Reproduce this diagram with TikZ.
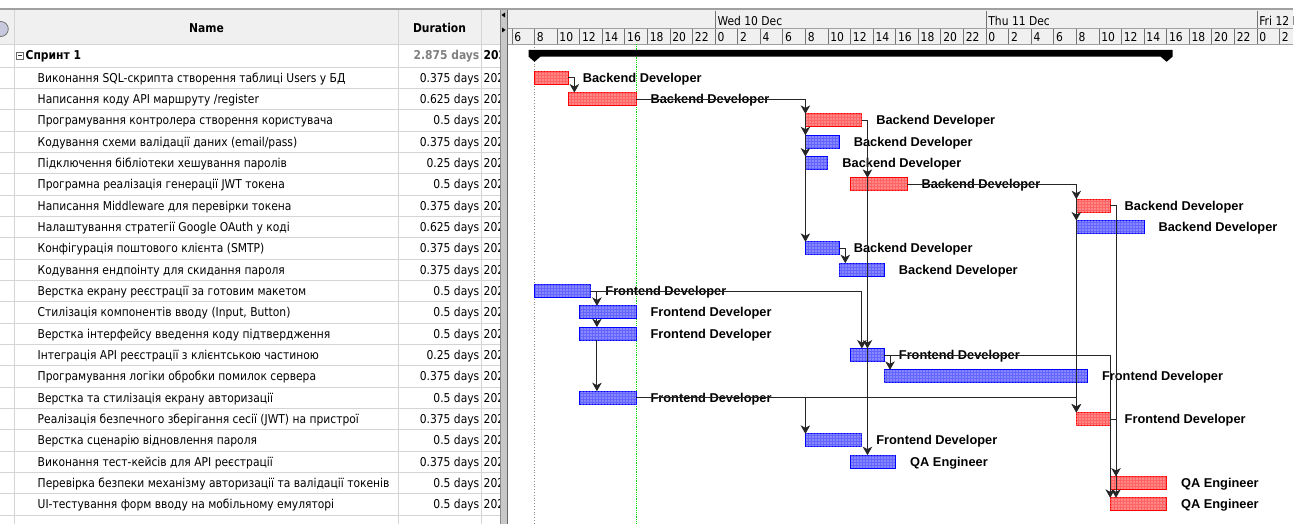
\documentclass[tikz,border=0pt]{standalone}
\usepackage{fontspec}
\setmainfont[FakeStretch=0.88]{DejaVu Sans}
\newfontfamily\resfont{Liberation Sans}
\usetikzlibrary{arrows.meta,patterns.meta}

\definecolor{hdrbg}{RGB}{240,240,240}
\definecolor{gridln}{RGB}{212,212,212}
\definecolor{hdrln}{RGB}{160,160,160}
\definecolor{redfill}{RGB}{255,100,100}
\definecolor{redline}{RGB}{255,0,0}
\definecolor{bluefill}{RGB}{100,100,255}
\definecolor{blueline}{RGB}{0,0,255}
\definecolor{durgray}{RGB}{128,128,128}
\definecolor{splitgray}{RGB}{200,200,200}
\definecolor{statusgreen}{RGB}{0,220,0}
\definecolor{iconfill}{RGB}{200,200,222}

\tikzset{
  tbl/.style={font=\fontsize{12.2}{14}\selectfont, inner sep=0pt},
  tblname/.style={tbl, anchor=base west},
  tbldur/.style={tbl, anchor=base east},
  hdrtxt/.style={font=\bfseries\fontsize{12.2}{14}\selectfont, inner sep=0pt},
  scaletxt/.style={tbl, anchor=base west},
  taskbar/.style={minimum height=13pt, inner sep=0pt, outer sep=0pt, anchor=west, line width=1pt},
  redbar/.style={taskbar, draw=redline, fill=redfill,
    postaction={pattern={Dots[distance=3pt,radius=0.6pt]}, pattern color=white}},
  bluebar/.style={taskbar, draw=blueline, fill=bluefill,
    postaction={pattern={Dots[distance=3pt,radius=0.6pt]}, pattern color=white}},
  restxt/.style={font=\resfont\bfseries\fontsize{12.8}{14}\selectfont, anchor=base west, inner sep=0pt},
  link/.style={line width=0.9pt, draw=black!85},
  tip/.style={-{Stealth[length=8.5pt,width=9.5pt,inset=2.5pt]}},
  gridline/.style={draw=gridln, line width=0.8pt},
  tick/.style={draw=black!55, line width=0.8pt},
}

\begin{document}
\begin{tikzpicture}[x=1pt,y=-1pt]
\useasboundingbox (0,0) rectangle (1309,524);
\fill[white] (0,0) rectangle (1309,524);

% ---------- table header ----------
\fill[hdrbg] (0,10) rectangle (500,44);
\begin{scope}
  \clip (0,10) rectangle (14.5,44);
  \draw[draw=black!55, fill=iconfill, line width=0.8pt] (0.8,29) circle (7.5);
\end{scope}
\node[hdrtxt] (hname) at (206.5,28) {Name};
\node[hdrtxt] (hdur) at (439.5,28) {Duration};

% ---------- table grid ----------
\draw[gridline] (0,44) -- (500,44);
\foreach \k in {0,...,21} {
  \draw[gridline] (0,{56.4+21.33*\k+10.67}) -- (500,{56.4+21.33*\k+10.67});
}
\draw[gridline] (14.5,10) -- (14.5,524);
\draw[gridline] (398,10) -- (398,524);
\draw[gridline] (481.5,10) -- (481.5,524);

% ---------- summary row ----------
\node[draw=black!60, line width=0.7pt, minimum size=6.5pt, inner sep=0pt, fill=white] (tog) at (19.8,55.8) {};
\draw[black!80, line width=0.8pt] ([xshift=1.5pt]tog.west) -- ([xshift=-1.5pt]tog.east);
\node[hdrtxt, anchor=base west] (sprint) at (25.5,60) {Спринт 1};
\node[hdrtxt, anchor=base east, text=durgray] (sprintdur) at (479.5,60) {2.875 days};
\begin{scope}
  \clip (482,44) rectangle (500,524);
  \node[hdrtxt, anchor=base west] (sprintstart) at (483.5,60) {202};
  \foreach \k in {1,...,21} {
    \node[tbl, anchor=base west] (st\k) at (483.5,{56.4+21.33*\k+4.4}) {202};
  }
\end{scope}

% ---------- task names and durations ----------
\foreach \k/\nm/\du in {
  1/{Виконання SQL-скрипта створення таблиці Users у БД}/0.375 days,
  2/{Написання коду API маршруту /register}/0.625 days,
  3/{Програмування контролера створення користувача}/0.5 days,
  4/{Кодування схеми валідації даних (email/pass)}/0.375 days,
  5/{Підключення бібліотеки хешування паролів}/0.25 days,
  6/{Програмна реалізація генерації JWT токена}/0.5 days,
  7/{Написання Middleware для перевірки токена}/0.375 days,
  8/{Налаштування стратегії Google OAuth у коді}/0.625 days,
  9/{Конфігурація поштового клієнта (SMTP)}/0.375 days,
  10/{Кодування ендпоінту для скидання пароля}/0.375 days,
  11/{Верстка екрану реєстрації за готовим макетом}/0.5 days,
  12/{Стилізація компонентів вводу (Input, Button)}/0.5 days,
  13/{Верстка інтерфейсу введення коду підтвердження}/0.5 days,
  14/{Інтеграція API реєстрації з клієнтською частиною}/0.25 days,
  15/{Програмування логіки обробки помилок сервера}/0.375 days,
  16/{Верстка та стилізація екрану авторизації}/0.5 days,
  17/{Реалізація безпечного зберігання сесії (JWT) на пристрої}/0.375 days,
  18/{Верстка сценарію відновлення пароля}/0.5 days,
  19/{Виконання тест-кейсів для API реєстрації}/0.375 days,
  20/{Перевірка безпеки механізму авторизації та валідації токенів}/0.5 days,
  21/{UI-тестування форм вводу на мобільному емуляторі}/0.5 days} {
  \node[tblname] (nm\k) at (37.5,{56.4+21.33*\k+4.4}) {\nm};
  \node[tbldur] (du\k) at (479.5,{56.4+21.33*\k+4.4}) {\du};
}

% ---------- splitter ----------
\fill[splitgray] (500.5,10) rectangle (507,524);
\draw[black!45, line width=0.8pt] (500.5,10) -- (500.5,524);
\draw[black!60, line width=0.8pt] (507,10) -- (507,524);
\fill[black] (501.5,15) -- (505,12.5) -- (505,17.5) -- cycle;
\fill[black] (505.5,30) -- (502,27.5) -- (502,32.5) -- cycle;

% ---------- timescale ----------
\fill[hdrbg] (507.5,10) rectangle (1293,44);
\draw[hdrln, line width=0.8pt] (507.5,28.3) -- (1293,28.3);
\draw[hdrln, line width=0.8pt] (507.5,44) -- (1293,44);
\begin{scope}
  \clip (507.5,10) rectangle (1293,44);
  \foreach \t/\lab in {24/Wed 10 Dec, 48/Thu 11 Dec, 72/Fri 12 Dec} {
    \draw[tick] ({534.5+11.288*(\t-8)},11) -- ({534.5+11.288*(\t-8)},28.3);
    \node[scaletxt] (day\t) at ({534.5+11.288*(\t-8)+2.2},25.8) {\lab};
  }
  \foreach \t in {6,8,...,76} {
    \pgfmathtruncatemacro\hh{mod(\t,24)}
    \draw[tick] ({534.5+11.288*(\t-8)},29) -- ({534.5+11.288*(\t-8)},44);
    \node[scaletxt] (hr\t) at ({534.5+11.288*(\t-8)+2.2},41.6) {\hh};
  }
\end{scope}
\draw[hdrln, line width=2pt] (0,9.2) -- (1293,9.2);

% ---------- project start and status date ----------
\draw[black!45, dotted, line width=0.8pt] (534.5,44) -- (534.5,524);
\draw[statusgreen, densely dotted, line width=0.8pt] (636.1,44) -- (636.1,524);

% ---------- summary bar ----------
\fill[black] (528.5,50) -- (1172.6,50) -- (1172.6,56.6) -- (1166.6,61.8) -- (1160.6,56.6)
  -- (540.5,56.6) -- (534.5,61.8) -- (528.5,56.6) -- cycle;

% ---------- task bars and resource labels ----------
\foreach \k/\sty/\ts/\te/\res in {
  1/redbar/8/11/Backend Developer,
  2/redbar/11/17/Backend Developer,
  3/redbar/32/37/Backend Developer,
  4/bluebar/32/35/Backend Developer,
  5/bluebar/32/34/Backend Developer,
  6/redbar/36/41/Backend Developer,
  7/redbar/56/59/Backend Developer,
  8/bluebar/56/62/Backend Developer,
  9/bluebar/32/35/Backend Developer,
  10/bluebar/35/39/Backend Developer,
  11/bluebar/8/13/Frontend Developer,
  12/bluebar/12/17/Frontend Developer,
  13/bluebar/12/17/Frontend Developer,
  14/bluebar/36/39/Frontend Developer,
  15/bluebar/39/57/Frontend Developer,
  16/bluebar/12/17/Frontend Developer,
  17/redbar/56/59/Frontend Developer,
  18/bluebar/32/37/Frontend Developer,
  19/bluebar/36/40/QA Engineer,
  20/redbar/59/64/QA Engineer,
  21/redbar/59/64/QA Engineer} {
  \pgfmathsetmacro\xs{534.5+11.288*(\ts-8)}
  \pgfmathsetmacro\xe{534.5+11.288*(\te-8)}
  \pgfmathsetmacro\ww{\xe-\xs}
  \pgfmathsetmacro\yy{56.4+21.33*\k}
  \node[\sty, minimum width=\ww pt] (t\k) at (\xs,\yy) {};
  \node[restxt] (r\k) at ({\xe+14.3},{\yy+4.6}) {\res};
}

% ---------- dependency links ----------
\draw[link,tip] (t1.east) -| ([xshift=6pt]t2.north west);

\draw[link,tip] (t2.east) -| (t9.north west);
\foreach \n in {t3,t4,t5}
  \draw[link,tip] ([yshift=9pt]\n.north west) -- (\n.north west);

\coordinate (c3) at ([xshift=5.6pt]t3.east);
\draw[link,tip] (t3.east) -- (c3) -- (c3 |- t19.north);
\draw[link,tip] ([yshift=9pt]c3 |- t6.north) -- (c3 |- t6.north);
\draw[link,tip] ([yshift=9pt]c3 |- t14.north) -- (c3 |- t14.north);

\draw[link,tip] (t6.east) -| (t17.north west);
\foreach \n in {t7,t8}
  \draw[link,tip] ([yshift=9pt]\n.north west) -- (\n.north west);

\coordinate (c7) at ([xshift=5.8pt]t7.east);
\draw[link,tip] (t7.east) -- (c7) -- (c7 |- t21.north);
\draw[link,tip] ([yshift=9pt]c7 |- t20.north) -- (c7 |- t20.north);
\draw[link] (t17.east) -- (c7 |- t17.east);

\draw[link,tip] (t9.east) -| ([xshift=6pt]t10.north west);

\coordinate (c11) at ([xshift=6pt]t11.east);
\draw[link,tip] (t11.east) -- (c11) -- (c11 |- t12.north);
\draw[link,tip] (c11 |- t12.south) -- (c11 |- t13.north);
\draw[link,tip] (c11 |- t13.south) -- (c11 |- t16.north);
\draw[link,tip] (t11.east) -| ([xshift=11.3pt]t14.north west);

\draw[link,tip] (t14.east) -| ([xshift=5.6pt]t15.north west);
\draw[link,tip] (t14.east) -| (t21.north west);

\draw[link,tip] (t16.east) -| (t17.north west);
\draw[link,tip] (t16.east) -| (t18.north west);
\end{tikzpicture}
\end{document}
